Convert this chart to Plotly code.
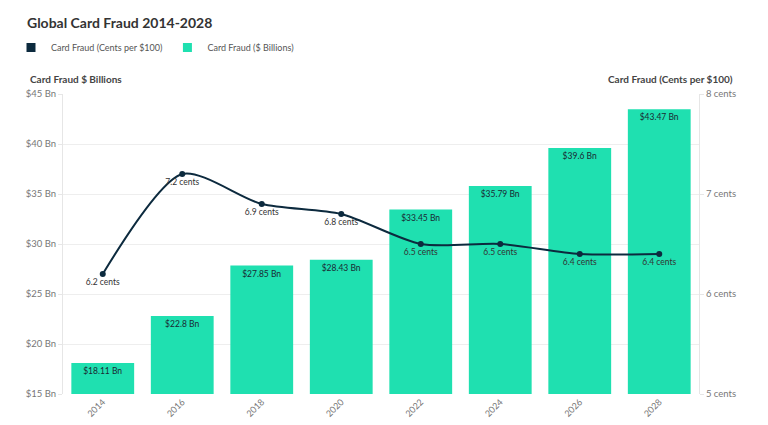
import plotly.graph_objects as go

years = ["2014", "2016", "2018", "2020", "2022", "2024", "2026", "2028"]
billions = [18.11, 22.8, 27.85, 28.43, 33.45, 35.79, 39.6, 43.47]
cents = [6.2, 7.2, 6.9, 6.8, 6.5, 6.5, 6.4, 6.4]

left_ticks = [15, 20, 25, 30, 35, 40, 45]
right_ticks = [5, 6, 7, 8]

BAR = "#1fe0b0"
LINE = "#0c2a3e"
FONT = "Lato, 'Open Sans', sans-serif"

# page body has an 8px default margin, so the figure is sized to fit the window
W, H = 760, 417

fig = go.Figure()

fig.add_trace(go.Scatter(
    x=years, y=cents, yaxis="y2", mode="lines+markers+text",
    line=dict(color=LINE, width=2, shape="spline", smoothing=0.75),
    marker=dict(color=LINE, size=6),
    text=[f"{v} cents" for v in cents], textposition="bottom center",
    textfont=dict(size=8.5, color="#333333", family=FONT),
    showlegend=False, cliponaxis=False,
))
fig.add_trace(go.Bar(
    x=years, y=billions, marker=dict(color=BAR, line=dict(width=0)),
    text=[f"${v} Bn" for v in billions], textposition="inside",
    insidetextanchor="end", textangle=0,
    textfont=dict(size=8.5, color="#1a2a33", family=FONT),
    showlegend=False,
))
# legend entries
fig.add_trace(go.Scatter(x=[None], y=[None], mode="markers", name="Card Fraud (Cents per $100)",
                         marker=dict(symbol="square", size=9, color=LINE)))
fig.add_trace(go.Scatter(x=[None], y=[None], mode="markers", name="Card Fraud ($ Billions)",
                         marker=dict(symbol="square", size=9, color=BAR)))

fig.update_layout(
    width=W, height=H,
    margin=dict(l=55, r=69, t=86, b=31, autoexpand=False),
    paper_bgcolor="white", plot_bgcolor="white",
    font=dict(family=FONT, color="#666666"),
    bargap=0.21,
    title=dict(text="<b>Global Card Fraud 2014-2028</b>", x=19/W, xref="container", xanchor="left",
               y=1-15/H, yref="container", yanchor="middle",
               font=dict(size=14, color="#333333", family=FONT)),
    legend=dict(orientation="h", x=3/W, xref="container", y=1-25/H, yref="container",
                xanchor="left", yanchor="top", font=dict(size=9, color="#555555"),
                itemwidth=30, traceorder="normal", tracegroupgap=0),
    xaxis=dict(type="category", tickangle=-45, tickfont=dict(size=9, color="#777777"),
               showgrid=False, showline=False, ticks=""),
    yaxis=dict(range=[15, 45], tickvals=left_ticks, ticktext=[f"${v} Bn" for v in left_ticks],
               tickfont=dict(size=9.5, color="#777777"), gridcolor="#eeeeee",
               showline=True, linecolor="#e6e6e6", ticks="outside", ticklen=4, tickcolor="#e6e6e6",
               zeroline=False),
    yaxis2=dict(range=[5, 8], tickvals=right_ticks, ticktext=[f"{v} cents" for v in right_ticks],
                overlaying="y", side="right", showgrid=False,
                tickfont=dict(size=9.5, color="#777777"),
                showline=True, linecolor="#e6e6e6", ticks="outside", ticklen=4, tickcolor="#e6e6e6",
                zeroline=False),
    annotations=[
        dict(text="<b>Card Fraud $ Billions</b>", xref="paper", yref="paper",
             x=-35/636, y=1+15/300, xanchor="left", yanchor="middle", showarrow=False,
             font=dict(size=10, color="#444444")),
        dict(text="<b>Card Fraud (Cents per $100)</b>", xref="paper", yref="paper",
             x=1+36/636, y=1+15/300, xanchor="right", yanchor="middle", showarrow=False,
             font=dict(size=10, color="#444444")),
    ],
)

fig.write_html("out.html")
